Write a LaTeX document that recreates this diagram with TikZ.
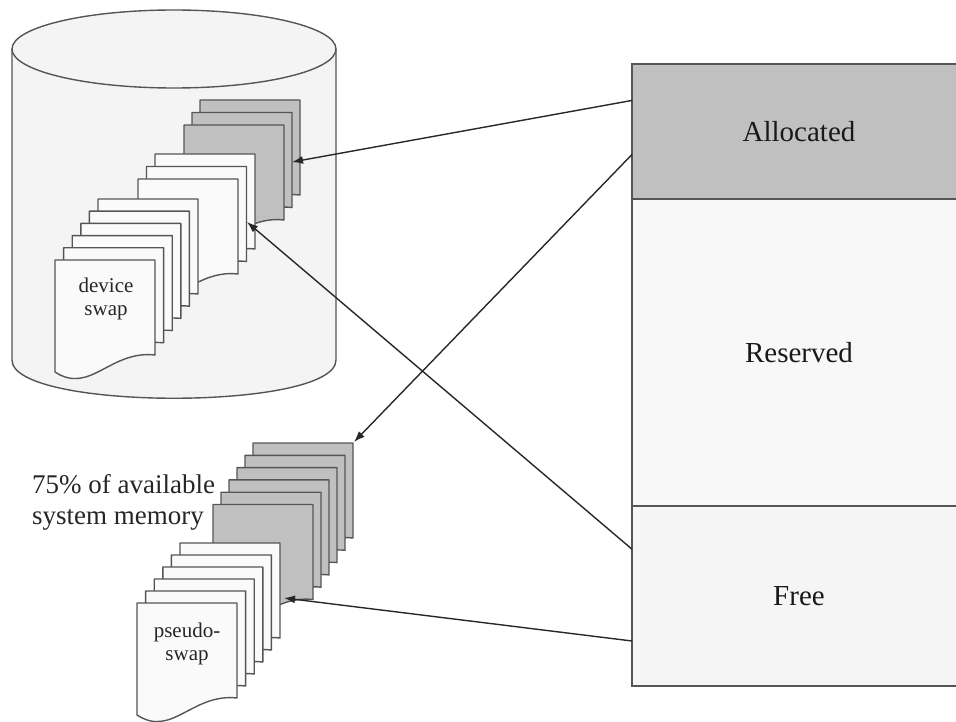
\documentclass[tikz,border=0pt]{standalone}
\usepackage{fontspec}
\setmainfont{Liberation Serif}
\usepackage{tikz}
\usetikzlibrary{arrows.meta,positioning,calc}
\definecolor{linegray}{RGB}{85, 85, 85}
\definecolor{arrowgray}{RGB}{40, 40, 40}
\definecolor{usedgray}{RGB}{192, 192, 192}
\definecolor{pagewhite}{RGB}{250, 250, 250}
\definecolor{diskfill}{RGB}{244, 244, 244}
\definecolor{reservedfill}{RGB}{248, 248, 248}
\definecolor{freefill}{RGB}{245, 245, 245}
\tikzstyle{page} = [draw=linegray, line width=1.4pt, line join=round]
\tikzstyle{cell} = [rectangle, draw=linegray, line width=1.4pt, outer sep=0pt, inner sep=0pt, minimum width=334pt, text=black!90, font=\fontsize{29}{34}\selectfont]
\tikzstyle{textonly} = [draw=none, fill=none, text=black!85, inner sep=0pt]
\tikzstyle{tedge}  = [draw=arrowgray, line width=1.4pt, >={Latex[length=11pt,width=8pt]}, ->]

% one sheet with a wavy lower edge, top left corner at (#1,#2)
\newcommand{\docpage}[3]{%
  \path[page, fill=#3, shift={(#1,#2)}] (0,0) -- (100,0) -- (100,95)
    .. controls (55,90) and (35,135) .. (0,112) -- cycle;}
% #4 sheets from back to front, each #5 left and #6 down of the one before
\newcommand{\pagestack}[6]{%
  \foreach \k in {1,...,#4}
    \docpage{{#1-(\k-1)*#5}}{{#2+(\k-1)*#6}}{#3};}

\begin{document}
\begin{tikzpicture}[x=1pt, y=-1pt, auto]
\useasboundingbox (0,0) rectangle (956,722);

% swap disk =============================
\path[page, fill=diskfill] (12,49) -- (12,360) .. controls (12,411) and (336,411) .. (336,360) -- (336,49);
\path[page, fill=diskfill] (174,49) ellipse (162 and 39);

% pages
\pagestack{200}{100}{usedgray}{3}{8}{12.5}
\pagestack{155}{154}{pagewhite}{3}{8.5}{12.5}
\pagestack{98}{199}{pagewhite}{6}{8.6}{12.2}
\pagestack{253}{443}{usedgray}{6}{8}{12.3}
\pagestack{180}{543}{pagewhite}{6}{8.6}{12}

\node[textonly, align=center, font=\fontsize{21}{23}\selectfont] (devlabel) at (106,299) {device\\swap};
\node[textonly, align=center, font=\fontsize{21}{23}\selectfont] (pslabel) at (187,644) {pseudo-\\swap};
\node[textonly, align=left, anchor=west, font=\fontsize{27}{31}\selectfont] (share) at (32,502) {75\% of available\\system memory};

% memory =============================
\node[cell, fill=usedgray, minimum height=135pt, anchor=north west] (alloc) at (632,64) {Allocated};
\node[cell, fill=reservedfill, minimum height=307pt, below=0pt of alloc] (reserved) {Reserved};
\node[cell, fill=freefill, minimum height=180pt, below=0pt of reserved] (free) {Free};

% arrow tips on the sheets
\coordinate (devgray) at (292,162);
\coordinate (devwhite) at (247,222);
\coordinate (psgray) at (354,442);
\coordinate (pswhite) at (284,598);

% edges
\path[tedge] ($(alloc.north west)!0.27!(alloc.south west)$) -- (devgray);
\path[tedge] ($(alloc.north west)!0.67!(alloc.south west)$) -- (psgray);
\path[tedge] ($(free.north west)!0.24!(free.south west)$) -- (devwhite);
\path[tedge] ($(free.north west)!0.75!(free.south west)$) -- (pswhite);

\end{tikzpicture}
\end{document}
